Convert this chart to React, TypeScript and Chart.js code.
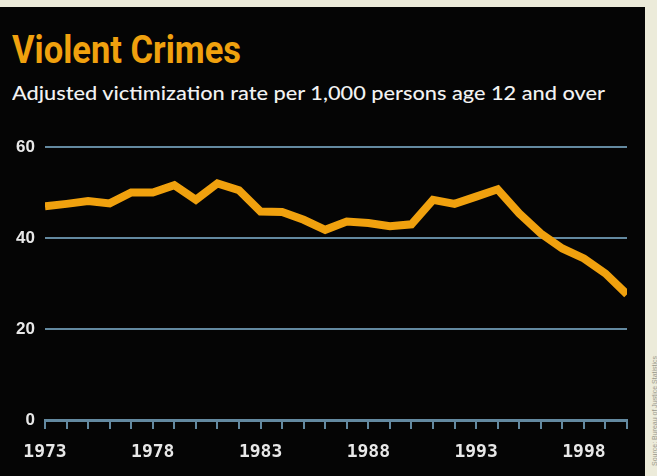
import React, { useEffect, useRef } from "react";
import { Chart, registerables } from "chart.js";

Chart.register(...registerables);

const years: number[] = [
  1973, 1974, 1975, 1976, 1977, 1978, 1979, 1980, 1981, 1982, 1983, 1984, 1985, 1986,
  1987, 1988, 1989, 1990, 1991, 1992, 1993, 1994, 1995, 1996, 1997, 1998, 1999, 2000,
];
const rates: number[] = [
  47.0, 47.5, 48.1, 47.6, 50.0, 50.0, 51.6, 48.4, 52.0, 50.5, 45.8, 45.7, 44.0, 41.8,
  43.6, 43.3, 42.6, 43.0, 48.4, 47.5, 49.1, 50.7, 45.4, 41.0, 37.7, 35.5, 32.2, 27.6,
];
const xTickLabels: number[] = [1973, 1978, 1983, 1988, 1993, 1998];
const yTicks: number[] = [0, 20, 40, 60];

const title = "Violent Crimes";
const subtitle = "Adjusted victimization rate per 1,000 persons age 12 and over";
const source = "Source: Bureau of Justice Statistics";

const GOLD = "#F0A10E";
const GRID = "#6389A0";
const LABEL = "#E8E8E8";

export default function App() {
  const canvasRef = useRef<HTMLCanvasElement | null>(null);
  const titleRef = useRef<HTMLDivElement | null>(null);
  const subRef = useRef<HTMLDivElement | null>(null);

  useEffect(() => {
    const fit = (el: HTMLDivElement | null, target: number) => {
      if (!el) return;
      el.style.transform = "none";
      const w = el.getBoundingClientRect().width;
      if (w > 0) el.style.transform = `scaleX(${target / w})`;
    };
    fit(titleRef.current, 229);
    fit(subRef.current, 593);

    const canvas = canvasRef.current;
    if (!canvas) return;
    const chart = new Chart(canvas, {
      type: "line",
      data: {
        datasets: [
          {
            data: years.map((y, i) => ({ x: y, y: rates[i] })),
            borderColor: GOLD,
            borderWidth: 8,
            pointRadius: 0,
            tension: 0,
            fill: false,
            borderJoinStyle: "miter",
          },
        ],
      },
      options: {
        responsive: false,
        animation: false,
        layout: { padding: { top: 37, right: 18, left: 0, bottom: 0 } },
        plugins: { legend: { display: false }, tooltip: { enabled: false } },
        scales: {
          x: {
            type: "linear",
            min: 1973,
            max: 2000,
            afterFit: (s: any) => {
              s.height = 56;
            },
            afterBuildTicks: (s: any) => {
              s.ticks = years.map((v) => ({ value: v }));
            },
            ticks: {
              autoSkip: false,
              maxRotation: 0,
              minRotation: 0,
              padding: 13,
              color: LABEL,
              font: { family: "'DejaVu Sans Mono', monospace", size: 18, weight: "bold" },
              callback: (v: any) => (xTickLabels.includes(Number(v)) ? String(v) : ""),
            },
            grid: {
              drawOnChartArea: false,
              drawTicks: true,
              tickLength: 9,
              color: GRID,
              lineWidth: 2,
            },
            border: { display: true, color: GRID, width: 3 },
          },
          y: {
            min: 0,
            max: 60,
            afterFit: (s: any) => {
              s.width = 45;
            },
            afterBuildTicks: (s: any) => {
              s.ticks = yTicks.map((v) => ({ value: v }));
            },
            ticks: {
              padding: 10,
              color: LABEL,
              font: { family: "'Liberation Sans', sans-serif", size: 17, weight: "bold" },
            },
            grid: { drawTicks: false, color: GRID, lineWidth: 2 },
            border: { display: false },
          },
        },
      },
    });
    return () => chart.destroy();
  }, []);

  return (
    <div
      style={{
        position: "fixed",
        left: 0,
        top: 0,
        width: 657,
        height: 476,
        background: "#ECEBDA",
        overflow: "hidden",
      }}
    >
      <div
        style={{
          position: "absolute",
          left: 0,
          top: 7,
          width: 645,
          height: 469,
          background: "#050505",
        }}
      />
      <div
        ref={titleRef}
        style={{
          position: "absolute",
          left: 12,
          top: 30,
          fontFamily: "Roboto, 'Liberation Sans', sans-serif",
          fontWeight: 700,
          fontSize: 38,
          lineHeight: "40px",
          color: GOLD,
          whiteSpace: "nowrap",
          transformOrigin: "left center",
        }}
      >
        {title}
      </div>
      <div
        ref={subRef}
        style={{
          position: "absolute",
          left: 12,
          top: 79,
          fontFamily: "Lato, 'Open Sans', sans-serif",
          fontSize: 20,
          fontWeight: 500,
          lineHeight: "26px",
          color: "#F2F2F2",
          whiteSpace: "nowrap",
          transformOrigin: "left center",
        }}
      >
        {subtitle}
      </div>
      <canvas
        ref={canvasRef}
        width={645}
        height={366}
        style={{ position: "absolute", left: 0, top: 110, width: 645, height: 366 }}
      />
      <div
        style={{
          position: "absolute",
          left: 651,
          top: 470,
          transform: "rotate(-90deg)",
          transformOrigin: "left top",
          fontFamily: "'Liberation Sans', sans-serif",
          fontSize: 7,
          lineHeight: "8px",
          color: "#9A998C",
          whiteSpace: "nowrap",
          marginTop: -4,
        }}
      >
        {source}
      </div>
    </div>
  );
}
